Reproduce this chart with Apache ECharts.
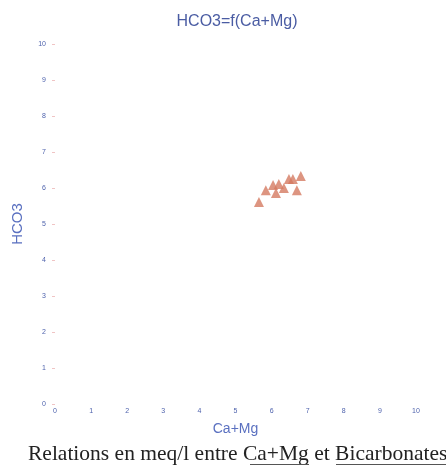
<!DOCTYPE html>
<html>
<head>
    <meta charset="utf-8">
    <title>HCO3=f(Ca+Mg)</title>
    <script src="https://cdn.jsdelivr.net/npm/echarts@6/dist/echarts.min.js"></script>
    <style>
        html, body {
            margin: 0;
            padding: 0;
            background: #fff;
        }

        #chartmain {
            width: 446px;
            height: 467px;
        }
    </style>
</head>
<body>
<div id="chartmain"></div>
<script type="text/javascript">
    // Ca+Mg (meq/l)
    var caMg = [5.65, 5.84, 6.04, 6.2, 6.12, 6.34, 6.48, 6.59, 6.81, 6.7];
    // HCO3 (meq/l)
    var hco3 = [5.61, 5.94, 6.08, 6.11, 5.86, 6.0, 6.25, 6.25, 6.33, 5.94];

    var points = [];
    for (var i = 0; i < caMg.length; i++) {
        points.push([caMg[i], hco3[i]]);
    }

    var blue = '#4f63ad';

    var option = {
        animation: false,
        title: {
            text: 'HCO3=f(Ca+Mg)',
            left: 232,
            top: 9,
            textAlign: 'center',
            textStyle: {
                color: '#4a5ca3',
                fontSize: 16,
                fontWeight: 'normal',
                fontFamily: 'Liberation Sans'
            }
        },
        grid: {
            left: 55,
            right: 30,
            top: 44,
            bottom: 63
        },
        xAxis: {
            type: 'value',
            min: 0,
            max: 10,
            interval: 1,
            name: 'Ca+Mg',
            nameLocation: 'middle',
            nameGap: 18,
            nameTextStyle: {
                color: '#5a70c0',
                fontSize: 14,
                fontFamily: 'Liberation Sans'
            },
            axisLine: {show: false},
            axisTick: {show: false},
            splitLine: {show: false},
            axisLabel: {
                color: blue,
                fontSize: 7,
                margin: 4,
                fontFamily: 'Liberation Sans'
            }
        },
        yAxis: {
            type: 'value',
            min: 0,
            max: 10,
            interval: 1,
            name: 'HCO3',
            nameLocation: 'middle',
            nameGap: 30,
            nameTextStyle: {
                color: '#5a70c0',
                fontSize: 15,
                fontFamily: 'Liberation Sans'
            },
            axisLine: {show: false},
            axisTick: {
                show: true,
                length: 3,
                lineStyle: {color: '#f0c4c4', width: 1}
            },
            splitLine: {show: false},
            axisLabel: {
                color: blue,
                fontSize: 7,
                margin: 9,
                fontFamily: 'Liberation Sans'
            }
        },
        graphic: [
            {
                type: 'text',
                left: 28,
                top: 443,
                style: {
                    text: 'Relations en meq/l entre Ca+Mg et Bicarbonates',
                    fill: '#222',
                    font: '21.5px "Liberation Serif"'
                }
            },
            {
                type: 'line',
                shape: {x1: 250, y1: 464.5, x2: 309, y2: 464.5},
                style: {stroke: '#555', lineWidth: 1}
            },
            {
                type: 'line',
                shape: {x1: 336, y1: 464.5, x2: 446, y2: 464.5},
                style: {stroke: '#555', lineWidth: 1}
            }
        ],
        series: [
            {
                name: 'HCO3',
                type: 'scatter',
                symbol: 'triangle',
                symbolSize: 10,
                itemStyle: {
                    color: '#d47b62'
                },
                data: points
            }
        ]
    };

    var myChart = echarts.init(document.getElementById('chartmain'));
    myChart.setOption(option);
</script>
</body>
</html>
